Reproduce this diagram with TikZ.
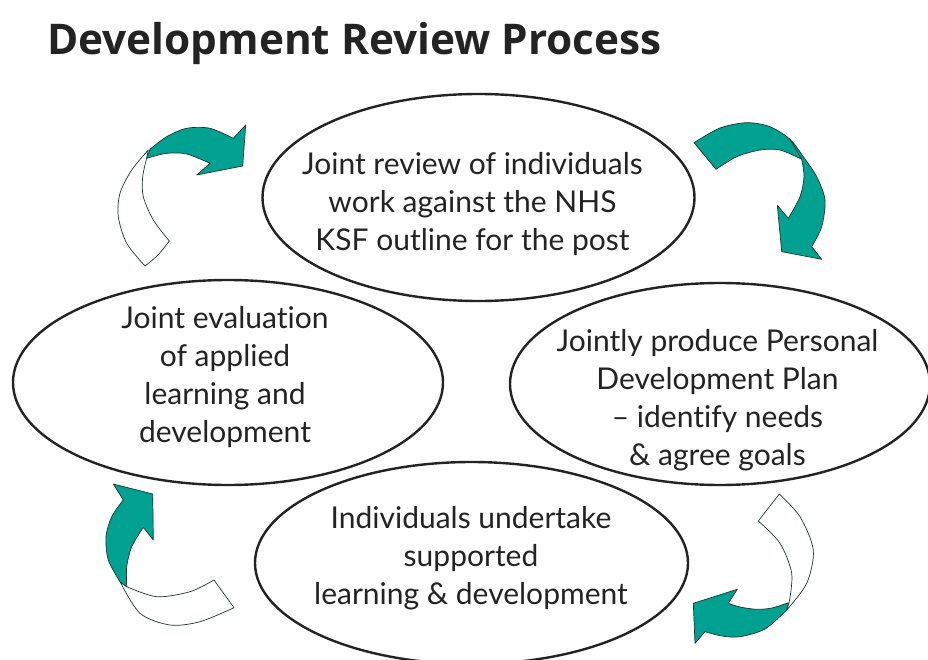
\documentclass[tikz,border=0pt]{standalone}
\usepackage{fontspec}
\setmainfont{Lato}[Ligatures={NoCommon}]
\newfontfamily\titlefont{Open Sans}
\usetikzlibrary{shapes.geometric}
\definecolor{tealfill}{RGB}{0,161,144}
\definecolor{edgecol}{RGB}{30,52,48}
\definecolor{ink}{RGB}{35,35,35}
\begin{document}
\begin{tikzpicture}[x=1pt,y=-1pt,
  bubble/.style={ellipse, draw=ink, line width=2.4pt, fill=white, inner sep=0pt},
  txt/.style={align=center, text=ink, inner sep=0pt, font=\fontsize{30}{38}\selectfont},
  twist/.style={fill=tealfill, draw=edgecol, line width=0.7pt, line join=round},
  back/.style={fill=white, draw=edgecol, line width=0.7pt, line join=round}]
\useasboundingbox (0,0) rectangle (928,660);

\node[anchor=base west, inner sep=0pt, text=ink, font=\titlefont\bfseries\fontsize{42.3}{44}\selectfont] (title) at (47,55) {Development Review Process};

\node[bubble, minimum width=432pt, minimum height=207pt] (etop) at (478.5,197.5) {};
\node[bubble, minimum width=430pt, minimum height=205pt] (eleft) at (228,382.5) {};
\node[bubble, minimum width=420pt, minimum height=202pt] (eright) at (720,384) {};
\node[bubble, minimum width=433pt, minimum height=202pt] (ebottom) at (471.5,563) {};

\node[txt] (ttop) at (472.5,204) {Joint review of individuals\\work against the NHS\\KSF outline for the post};
\node[txt] (tleft) at (225,377) {Joint evaluation\\of applied\\learning and\\development};
\node[txt] (tright) at (717.5,400) {Jointly produce Personal\\Development Plan\\– identify needs\\\& agree goals};
\node[txt] (tbottom) at (471,558) {Individuals undertake\\supported\\learning \& development};

% arrow top-left
\draw[back] plot[smooth] coordinates {(145,266) (158,255) (169.3,241)} -- plot[smooth] coordinates {(169.3,241) (153.3,220) (143.3,196.7) (142.7,176.7) (146.7,158.3)} -- plot[smooth] coordinates {(148.3,150) (131.7,170) (120,193.3) (118.3,216.7) (126.7,243.3) (145,266)} -- cycle;
\draw[twist] plot[smooth] coordinates {(146.7,158.3) (166.7,153.3) (186.7,154) (210,163.3)} -- (196.7,175) -- (242.7,166) -- (245.7,125) -- (233.3,138.3) -- plot[smooth] coordinates {(233.3,138.3) (210,128.3) (186.7,128.3) (166.7,136.7) (150,149.3)} -- cycle;

% arrow top-right
\draw[twist] plot[smooth] coordinates {(694,142.7) (720,128) (746.7,122.7) (770,126.7) (790,139.3) (803.3,156.7) (816.7,176.7) (825,200) (821.7,226.7) (811.7,246.7)} -- (821.7,259.3) -- (781.7,251.7) -- (777.3,205.3) -- (788.3,218.3) -- plot[smooth] coordinates {(788.3,218.3) (800,196.7) (804,176.7) (801.7,159.3)} -- plot[smooth] coordinates {(801.7,159.3) (780,150) (760,150) (736.7,156.7) (716,169.3)} -- cycle;
\draw[edgecol, line width=0.7pt] (790,139.3) -- (801.7,159.3);

% arrow bottom-right
\draw[back] plot[smooth] coordinates {(779.3,494) (800,516.7) (813.3,550) (806.7,583.3) (786.7,610)} -- plot[smooth] coordinates {(789.3,601.7) (791.7,573.3) (780,543.3) (758.3,521)} -- cycle;
\draw[twist] plot[smooth] coordinates {(788.3,602.7) (772,608) (756.7,609.3) (740,607) (728.3,603.3)} -- (737.3,589.3) -- (693.3,603.3) -- (695,643.3) -- (705,631.7) -- plot[smooth] coordinates {(705,631.7) (722,636) (740,636.7) (765,629) (786.7,610)} -- cycle;

% arrow bottom-left
\draw[back] plot[smooth] coordinates {(214,580) (190,591.7) (156.7,596.7) (126.7,586.7)} -- plot[smooth] coordinates {(120,581.7) (140,613.3) (170,625) (200,621.7) (234,607.7)} -- cycle;
\draw[twist] plot[smooth] coordinates {(126.7,586.7) (126.7,566.7) (131.7,546.7) (143.3,527.3)} -- (153.3,540) -- (152.7,494) -- (113.3,484) -- (123.3,500) -- plot[smooth] coordinates {(123.3,500) (111.7,516.7) (106,536.7) (108.3,560) (120,581.7)} -- cycle;
\end{tikzpicture}
\end{document}
